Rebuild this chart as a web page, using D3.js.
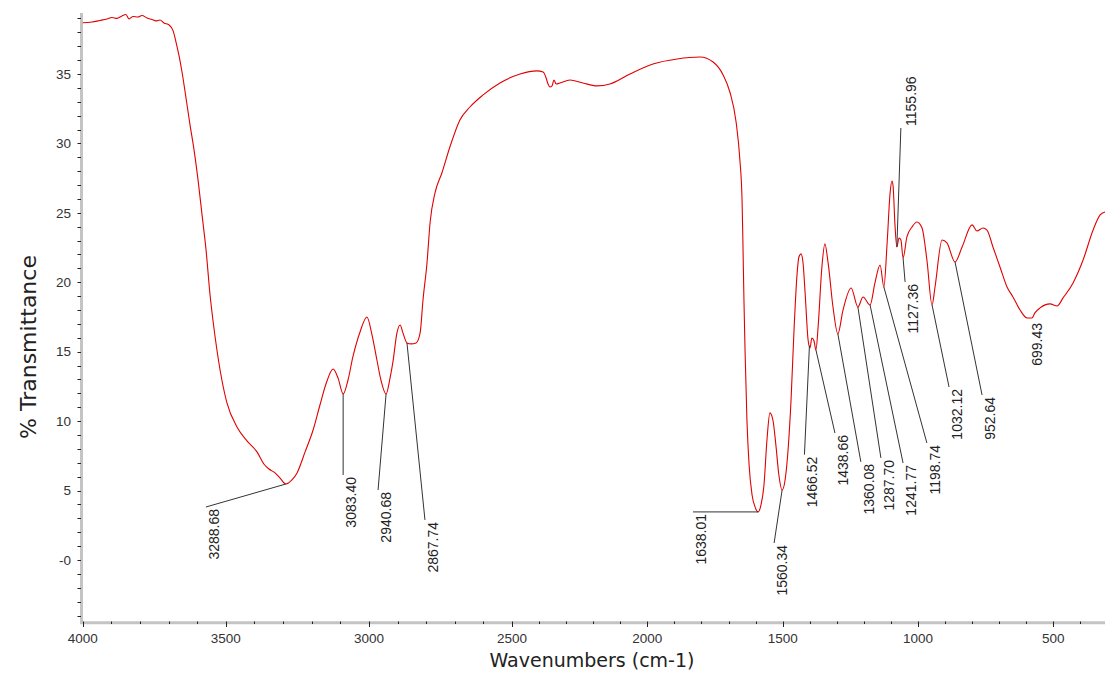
<!DOCTYPE html>
<html>
<head>
<meta charset="utf-8">
<script src="https://cdn.jsdelivr.net/npm/d3@7"></script>
<style>
    body { margin: 0; background: #fff; }
    svg { display: block; }
    .tickText { font-family: "Liberation Sans", Arial, sans-serif; font-size: 13.5px; fill: #333; }
    .peakText { font-family: "Liberation Sans", Arial, sans-serif; font-size: 14px; fill: #222; }
    .axisTitle { font-family: "DejaVu Sans", Verdana, sans-serif; fill: #222; }
</style>
</head>
<body>
<svg id="chart" width="1105" height="673"></svg>
<script>
// spectrum (wavenumber as read on the axis, % transmittance)
var wavenumbers = [4000, 3968, 3940, 3915, 3898, 3880, 3863, 3849, 3838, 3824, 3807, 3793, 3775, 3758, 3744, 3730, 3716, 3698, 3684, 3674,
    3664, 3653, 3639, 3625, 3611, 3597, 3583, 3569, 3555, 3545, 3531, 3520, 3496, 3461, 3426, 3391, 3367, 3349, 3328, 3311,
    3290, 3269, 3251, 3223, 3195, 3171, 3150, 3125, 3108, 3090, 3073, 3056, 3031, 3007, 2989, 2972, 2958, 2940, 2926, 2916,
    2902, 2891, 2881, 2867, 2853, 2835, 2821, 2811, 2797, 2786, 2769, 2745, 2717, 2682, 2647, 2601, 2542, 2470, 2408, 2385,
    2374, 2367, 2360, 2352, 2345, 2337, 2323, 2286, 2238, 2186, 2138, 2064, 1979, 1890, 1805, 1757, 1720, 1695, 1672, 1658,
    1650, 1647, 1643, 1639, 1632, 1624, 1613, 1602, 1591, 1580, 1569, 1558, 1547, 1536, 1525, 1514, 1502, 1491, 1480, 1469,
    1458, 1447, 1440, 1432, 1425, 1417, 1406, 1399, 1392, 1384, 1377, 1369, 1355, 1344, 1332, 1314, 1296, 1277, 1247, 1222,
    1203, 1177, 1159, 1140, 1126, 1114, 1103, 1096, 1092, 1085, 1078, 1070, 1063, 1055, 1041, 1022, 1004, 985, 967, 948,
    937, 911, 893, 863, 837, 800, 782, 760, 745, 723, 697, 671, 649, 623, 597, 579, 568, 549, 512, 486,
    464, 427, 390, 353, 327, 309]
var transmittance = [38.69, 38.74, 38.85, 38.96, 39.07, 39.00, 39.18, 39.28, 38.96, 39.14, 39.10, 39.21, 39.03, 38.92, 38.82, 38.89, 38.67, 38.53, 38.10, 37.30,
    36.37, 35.14, 33.27, 31.33, 29.53, 27.37, 24.85, 22.32, 19.08, 17.28, 15.12, 13.68, 11.31, 9.58, 8.57, 7.78, 6.91, 6.55, 6.27, 5.91,
    5.47, 5.76, 6.27, 7.78, 9.36, 11.16, 12.67, 13.75, 13.11, 11.95, 12.96, 14.62, 16.42, 17.50, 16.20, 14.40, 12.96, 11.95, 13.11, 14.26,
    16.35, 16.92, 16.35, 15.63, 15.56, 15.63, 16.35, 18.72, 21.39, 24.34, 26.43, 27.87, 29.74, 31.69, 32.62, 33.49, 34.35, 35.00, 35.22, 35.14,
    34.71, 34.28, 34.06, 34.14, 34.57, 34.28, 34.35, 34.57, 34.35, 34.14, 34.28, 35.00, 35.72, 36.08, 36.22, 35.86, 34.93, 33.70, 31.54, 28.81,
    25.93, 23.04, 18.72, 15.12, 10.08, 6.84, 4.68, 3.82, 3.46, 3.96, 5.40, 8.64, 10.59, 10.08, 8.28, 6.12, 5.04, 5.76, 7.92, 11.52,
    16.56, 20.52, 21.82, 22.04, 21.46, 19.23, 15.84, 15.27, 15.99, 15.77, 15.12, 16.78, 21.10, 22.76, 21.39, 18.22, 16.28, 18.00, 19.59, 18.22,
    18.94, 18.36, 19.95, 21.24, 19.66, 22.83, 26.43, 27.29, 26.93, 24.13, 22.54, 23.19, 23.04, 21.75, 23.26, 23.98, 24.34, 23.91, 21.60, 18.36,
    19.66, 23.04, 22.83, 21.46, 22.54, 24.13, 23.69, 23.91, 23.76, 22.54, 21.10, 19.66, 18.94, 18.00, 17.43, 17.43, 17.79, 18.15, 18.44, 18.29,
    18.87, 19.95, 21.60, 23.76, 24.85, 25.06]

// peak picks: printed label and where it sits on the axis
var peakLabels = ["3288.68", "3083.40", "2940.68", "2867.74", "1638.01", "1560.34", "1466.52", "1438.66", "1360.08",
    "1287.70", "1241.77", "1198.74", "1155.96", "1127.36", "1032.12", "952.64", "699.43"]
var peakAt = [3290, 3090, 2940, 2867, 1591, 1502, 1401, 1377, 1296, 1222, 1177, 1126, 1078, 1055, 948, 863, 579]

var xTicks = [4000, 3500, 3000, 2500, 2000, 1500, 1000, 500]
var yTicks = [0, 5, 10, 15, 20, 25, 30, 35]
var yTickLabels = ["-0", "5", "10", "15", "20", "25", "30", "35"]

// leader end offsets in px from the picked point (layout only)
var leaderOffsets = [[-80, 23], [0, 81], [-8, 96], [18, 177], [-65, 0], [-8, 53], [-5, 109], [19, 83], [23, 128],
    [23, 151], [33, 158], [43, 156], [4, -119], [2, 24], [17, 82], [27, 133], [5, 3]]

var svg = d3.select("#chart")

// the axis is stretched a little more above 2500 than below it
var xScale = d3.scaleLinear()
    .domain([4000, 2500, 309])
    .range([82.7, 512, 1105])

var yScale = d3.scaleLinear()
    .domain([-4.54, 39.39])
    .range([623, 13])

function valueAt(wn) {
    for (var i = 0; i < wavenumbers.length - 1; i++) {
        if (wavenumbers[i] >= wn && wavenumbers[i + 1] <= wn) {
            var f = (wavenumbers[i] - wn) / (wavenumbers[i] - wavenumbers[i + 1])
            return transmittance[i] + f * (transmittance[i + 1] - transmittance[i])
        }
    }
    return transmittance[transmittance.length - 1]
}

// y axis: grey bar, ticks every 1 unit
svg.append("line")
    .attr("x1", 81.5).attr("x2", 81.5)
    .attr("y1", yScale(39.39)).attr("y2", 624)
    .attr("stroke", "#c4c4c4").attr("stroke-width", 3)

svg.selectAll(".yMinor")
    .data(d3.range(-4, 40))
    .enter().append("line")
    .attr("x1", 77.5).attr("x2", 81)
    .attr("y1", function (d) { return Math.round(yScale(d)) + 0.5 })
    .attr("y2", function (d) { return Math.round(yScale(d)) + 0.5 })
    .attr("stroke", "#222")

svg.selectAll(".yLabel")
    .data(yTicks)
    .enter().append("text")
    .attr("class", "tickText")
    .attr("x", 71)
    .attr("y", function (d) { return yScale(d) })
    .attr("dy", "0.35em")
    .attr("text-anchor", "end")
    .text(function (d, i) { return yTickLabels[i] })

// x axis: grey bar, minor dots every 100
svg.append("line")
    .attr("x1", 80).attr("x2", 1105)
    .attr("y1", 622.7).attr("y2", 622.7)
    .attr("stroke", "#c4c4c4").attr("stroke-width", 3)

svg.selectAll(".xMinor")
    .data(d3.range(4000, 300, -100))
    .enter().append("line")
    .attr("x1", function (d) { return Math.round(xScale(d)) + 0.5 })
    .attr("x2", function (d) { return Math.round(xScale(d)) + 0.5 })
    .attr("y1", 621.5)
    .attr("y2", function (d) { return d % 500 == 0 ? 627 : 624 })
    .attr("stroke", "#222")

svg.selectAll(".xLabel")
    .data(xTicks)
    .enter().append("text")
    .attr("class", "tickText")
    .attr("x", function (d) { return xScale(d) })
    .attr("y", 643)
    .attr("text-anchor", "middle")
    .text(function (d) { return d })

// axis titles
svg.append("text")
    .attr("class", "axisTitle")
    .attr("x", 592).attr("y", 667)
    .attr("text-anchor", "middle")
    .style("font-size", "19px")
    .text("Wavenumbers (cm-1)")

svg.append("text")
    .attr("class", "axisTitle")
    .attr("transform", "translate(28,347) rotate(-90)")
    .attr("dy", "0.35em")
    .attr("text-anchor", "middle")
    .style("font-size", "22px")
    .text("% Transmittance")

// spectrum
var line = d3.line()
    .x(function (d) { return xScale(d) })
    .y(function (d, i) { return yScale(transmittance[i]) })
    .curve(d3.curveMonotoneX)

svg.append("path")
    .datum(wavenumbers)
    .attr("fill", "none")
    .attr("stroke", "#e00000")
    .attr("stroke-width", 1.1)
    .attr("stroke-linejoin", "round")
    .attr("d", line)

// peak labels with leader lines
peakLabels.forEach(function (label, i) {
    var px = xScale(peakAt[i])
    var py = yScale(valueAt(peakAt[i]))
    var ex = px + leaderOffsets[i][0]
    var ey = py + leaderOffsets[i][1]
    var above = leaderOffsets[i][1] < 0
    var noLeader = label == "699.43"

    if (!noLeader) {
        svg.append("line")
            .attr("x1", px).attr("y1", py)
            .attr("x2", ex).attr("y2", ey)
            .attr("stroke", "#333")
            .attr("stroke-width", 1)
    }

    var tx = noLeader ? ex : ex + (above ? 10 : 8)
    var ty = above ? ey - 2 : ey + 2
    svg.append("text")
        .attr("class", "peakText")
        .attr("transform", "translate(" + tx + "," + ty + ") rotate(-90)")
        .attr("dy", "0.35em")
        .attr("text-anchor", above ? "start" : "end")
        .text(label)
})
</script>
</body>
</html>
